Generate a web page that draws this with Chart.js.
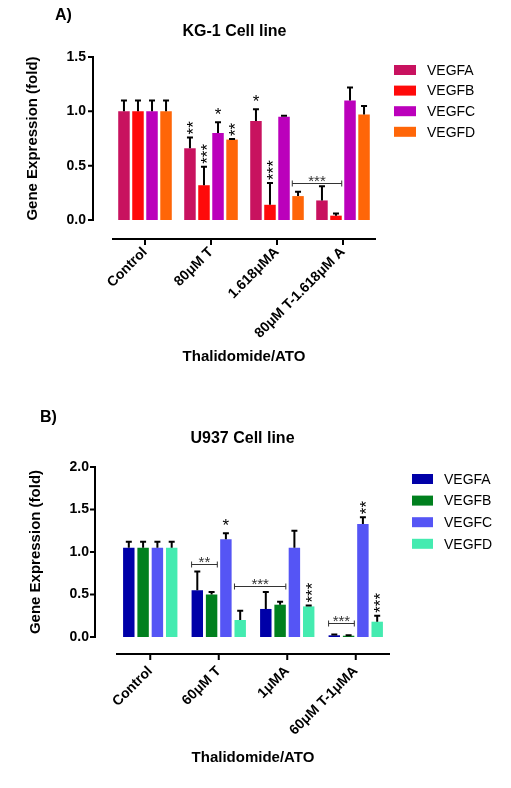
<!DOCTYPE html>
<html>
<head>
<meta charset="utf-8">
<script src="https://cdn.jsdelivr.net/npm/chart.js@4.4.1/dist/chart.umd.min.js"></script>
<style>
  html, body { margin: 0; padding: 0; background: #fff; }
  body { width: 511px; height: 788px; position: relative; overflow: hidden; }
  canvas { position: absolute; left: 0; }
  #kg1 { top: 0; }
  #u937 { top: 390px; }
</style>
</head>
<body>
<canvas id="kg1" width="511" height="390"></canvas>
<canvas id="u937" width="511" height="398"></canvas>
<script>
const genes = ['VEGFA', 'VEGFB', 'VEGFC', 'VEGFD'];

// A) KG-1 cell line
const kgGroups = ['Control', '80μM T', '1.618μMA', '80μM T-1.618μM A'];
const kgVEGFA = [1.00, 0.66, 0.91, 0.18];
const kgVEGFB = [1.00, 0.32, 0.14, 0.04];
const kgVEGFC = [1.00, 0.80, 0.95, 1.10];
const kgVEGFD = [1.00, 0.74, 0.22, 0.97];
const kgSdA = [0.10, 0.10, 0.11, 0.13];
const kgSdB = [0.10, 0.17, 0.20, 0.02];
const kgSdC = [0.10, 0.10, 0.01, 0.12];
const kgSdD = [0.10, 0.005, 0.04, 0.08];
const kgStarsA = ['', '**', '*', ''];
const kgStarsB = ['', '***', '***', ''];
const kgStarsC = ['', '*', '', ''];
const kgStarsD = ['', '**', '', ''];
// bracket: [group, gene] from / to, height, label
const kgBrackets = [{ from: [2, 3], to: [3, 1], y: 0.34, label: '***' }];
const kgYTicks = [0, 0.5, 1.0, 1.5];

// B) U937 cell line
const uGroups = ['Control', '60μM T', '1μMA', '60μM T-1μMA'];
const uVEGFA = [1.05, 0.55, 0.33, 0.02];
const uVEGFB = [1.05, 0.50, 0.38, 0.015];
const uVEGFC = [1.05, 1.15, 1.05, 1.33];
const uVEGFD = [1.05, 0.20, 0.36, 0.18];
const uSdA = [0.07, 0.22, 0.20, 0.01];
const uSdB = [0.07, 0.03, 0.035, 0.005];
const uSdC = [0.07, 0.07, 0.20, 0.08];
const uSdD = [0.07, 0.11, 0.01, 0.07];
const uStarsA = ['', '', '', ''];
const uStarsB = ['', '', '', ''];
const uStarsC = ['', '*', '', '**'];
const uStarsD = ['', '', '***', '***'];
const uBrackets = [
  { from: [1, 0], to: [1, 1], y: 0.86, label: '**' },
  { from: [1, 3], to: [2, 1], y: 0.60, label: '***' },
  { from: [3, 0], to: [3, 1], y: 0.17, label: '***' }
];
const uYTicks = [0, 0.5, 1.0, 1.5, 2.0];

Chart.defaults.font.family = '"Liberation Sans", Arial, Helvetica, sans-serif';
Chart.defaults.color = '#000';

const FONT = '"Liberation Sans", Arial, sans-serif';

// Prism-style extras: offset axes, error bars, stars, brackets, legend, titles
const prism = {
  id: 'prism',
  afterDatasetsDraw(chart, args, o) {
    const { ctx, scales: { y } } = chart;
    ctx.save();
    ctx.strokeStyle = '#000';
    ctx.lineWidth = 2;
    chart.data.datasets.forEach((ds, di) => {
      chart.getDatasetMeta(di).data.forEach((bar, i) => {
        const top = y.getPixelForValue(ds.data[i] + ds.sd[i]);
        ctx.beginPath();
        ctx.moveTo(bar.x, bar.y);
        ctx.lineTo(bar.x, top);
        ctx.moveTo(bar.x - 3, top);
        ctx.lineTo(bar.x + 3, top);
        ctx.stroke();
      });
    });
    ctx.restore();
  },
  afterDraw(chart, args, o) {
    const { ctx, chartArea: area, scales: { x, y } } = chart;
    ctx.save();
    ctx.strokeStyle = '#000';
    ctx.fillStyle = '#000';
    ctx.lineWidth = 2;

    // y axis, pulled left of the bars
    const ax = area.left - o.yGap;
    ctx.beginPath();
    ctx.moveTo(ax, y.getPixelForValue(y.max));
    ctx.lineTo(ax, y.getPixelForValue(0));
    o.yTicks.forEach(v => {
      const py = y.getPixelForValue(v);
      ctx.moveTo(ax - 5, py);
      ctx.lineTo(ax + 1, py);
    });
    ctx.stroke();

    // x axis, dropped below zero
    const ay = area.bottom + o.xGap;
    ctx.beginPath();
    ctx.moveTo(area.left, ay);
    ctx.lineTo(area.right, ay);
    x.ticks.forEach((t, i) => {
      const px = x.getPixelForTick(i);
      ctx.moveTo(px, ay);
      ctx.lineTo(px, ay + 6);
    });
    ctx.stroke();

    // significance stars
    ctx.font = '17px ' + FONT;
    ctx.textBaseline = 'alphabetic';
    chart.data.datasets.forEach((ds, di) => {
      chart.getDatasetMeta(di).data.forEach((bar, i) => {
        const s = ds.stars[i];
        if (!s) return;
        const top = y.getPixelForValue(ds.data[i] + ds.sd[i]);
        if (s.length === 1) {
          ctx.textAlign = 'center';
          ctx.fillText(s, bar.x, top - 2);
        } else {
          ctx.save();
          ctx.translate(bar.x + 9, top - 3);
          ctx.rotate(-Math.PI / 2);
          ctx.textAlign = 'left';
          ctx.fillText(s, 0, 0);
          ctx.restore();
        }
      });
    });

    // brackets
    ctx.strokeStyle = '#333';
    ctx.fillStyle = '#333';
    ctx.lineWidth = 1;
    ctx.font = '15px ' + FONT;
    o.brackets.forEach(b => {
      const b1 = chart.getDatasetMeta(b.from[1]).data[b.from[0]];
      const b2 = chart.getDatasetMeta(b.to[1]).data[b.to[0]];
      const x1 = b1.x - b1.width / 2, x2 = b2.x + b2.width / 2;
      const py = Math.round(y.getPixelForValue(b.y)) + 0.5;
      ctx.beginPath();
      ctx.moveTo(x1, py); ctx.lineTo(x2, py);
      ctx.moveTo(x1, py - 3); ctx.lineTo(x1, py + 3);
      ctx.moveTo(x2, py - 3); ctx.lineTo(x2, py + 3);
      ctx.stroke();
      ctx.textAlign = 'center';
      ctx.fillText(b.label, (x1 + x2) / 2, py + 2);
    });

    // legend
    ctx.font = '14px ' + FONT;
    ctx.textAlign = 'left';
    ctx.textBaseline = 'middle';
    chart.data.datasets.forEach((ds, di) => {
      const lx = area.right + o.legend.dx;
      const ly = area.top + o.legend.dy + di * o.legend.step;
      ctx.fillStyle = ds.backgroundColor;
      ctx.fillRect(lx, ly - 5, o.legend.w, 10);
      ctx.fillStyle = '#000';
      ctx.fillText(ds.label, lx + o.legend.w + 11, ly + 1);
    });

    // chart title and panel letter
    ctx.font = 'bold 16px ' + FONT;
    ctx.textAlign = 'center';
    ctx.fillText(o.title, (ax + area.right) / 2, area.top - o.titleDy);
    ctx.textAlign = 'left';
    ctx.fillText(o.panel[0], o.panel[1], o.panel[2]);
    ctx.restore();
  }
};

function makeChart(id, cfg) {
  return new Chart(document.getElementById(id), {
    type: 'bar',
    data: {
      labels: cfg.groups,
      datasets: cfg.series.map((s, i) => ({
        label: genes[i],
        data: s.data,
        sd: s.sd,
        stars: s.stars,
        backgroundColor: cfg.colors[i],
        borderWidth: 0,
        categoryPercentage: cfg.catPct,
        barPercentage: cfg.barPct
      }))
    },
    options: {
      responsive: false,
      animation: false,
      layout: { padding: cfg.padding },
      plugins: {
        legend: { display: false },
        tooltip: { enabled: false },
        prism: cfg.prism
      },
      scales: {
        x: {
          grid: { display: false, drawTicks: false },
          border: { display: false },
          ticks: {
            autoSkip: false, minRotation: 45, maxRotation: 45,
            padding: cfg.xPad,
            font: { size: 14, weight: 'bold' }
          },
          title: {
            display: true, text: 'Thalidomide/ATO',
            font: { size: 15, weight: 'bold' },
            padding: { top: 0, bottom: cfg.xTitlePad }
          },
          afterFit: s => { s.height = cfg.xHeight; }
        },
        y: {
          min: 0, max: cfg.yMax,
          grid: { display: false, drawTicks: false },
          border: { display: false },
          afterBuildTicks: s => { s.ticks = cfg.yTicks.map(v => ({ value: v })); },
          ticks: {
            padding: cfg.yPad,
            font: { size: 14, weight: 'bold' },
            callback: v => Number(v).toFixed(1)
          },
          title: {
            display: true, text: 'Gene Expression (fold)',
            font: { size: 15, weight: 'bold' },
            padding: { top: cfg.yTitlePad, bottom: 0 }
          },
          afterFit: s => { s.width = cfg.yWidth; }
        }
      }
    },
    plugins: [prism]
  });
}

makeChart('kg1', {
  groups: kgGroups,
  series: [
    { data: kgVEGFA, sd: kgSdA, stars: kgStarsA },
    { data: kgVEGFB, sd: kgSdB, stars: kgStarsB },
    { data: kgVEGFC, sd: kgSdC, stars: kgStarsC },
    { data: kgVEGFD, sd: kgSdD, stars: kgStarsD }
  ],
  colors: ['#C8125F', '#FF0A0A', '#BB00BB', '#FF6608'],
  catPct: 0.85, barPct: 0.82,
  padding: { top: 57, right: 135, bottom: 0, left: 0 },
  yMax: 1.5, yTicks: kgYTicks,
  yWidth: 112, yPad: 26, yTitlePad: 24,
  xHeight: 170, xPad: 24, xTitlePad: 24,
  prism: {
    yGap: 19, xGap: 19, yTicks: kgYTicks, brackets: kgBrackets,
    legend: { dx: 18, dy: 13, step: 20.6, w: 22 },
    title: 'KG-1 Cell line', titleDy: 25,
    panel: ['A)', 55, 16]
  }
});

makeChart('u937', {
  groups: uGroups,
  series: [
    { data: uVEGFA, sd: uSdA, stars: uStarsA },
    { data: uVEGFB, sd: uSdB, stars: uStarsB },
    { data: uVEGFC, sd: uSdC, stars: uStarsC },
    { data: uVEGFD, sd: uSdD, stars: uStarsD }
  ],
  colors: ['#0000A8', '#00801E', '#5555F5', '#44EBB0'],
  catPct: 0.835, barPct: 0.80,
  padding: { top: 77, right: 121, bottom: 0, left: 0 },
  yMax: 2.0, yTicks: uYTicks,
  yWidth: 116, yPad: 27, yTitlePad: 27,
  xHeight: 151, xPad: 26, xTitlePad: 21,
  prism: {
    yGap: 21, xGap: 17, yTicks: uYTicks, brackets: uBrackets,
    legend: { dx: 22, dy: 12, step: 21.6, w: 21 },
    title: 'U937 Cell line', titleDy: 28,
    panel: ['B)', 40, 28]
  }
});
</script>
</body>
</html>
